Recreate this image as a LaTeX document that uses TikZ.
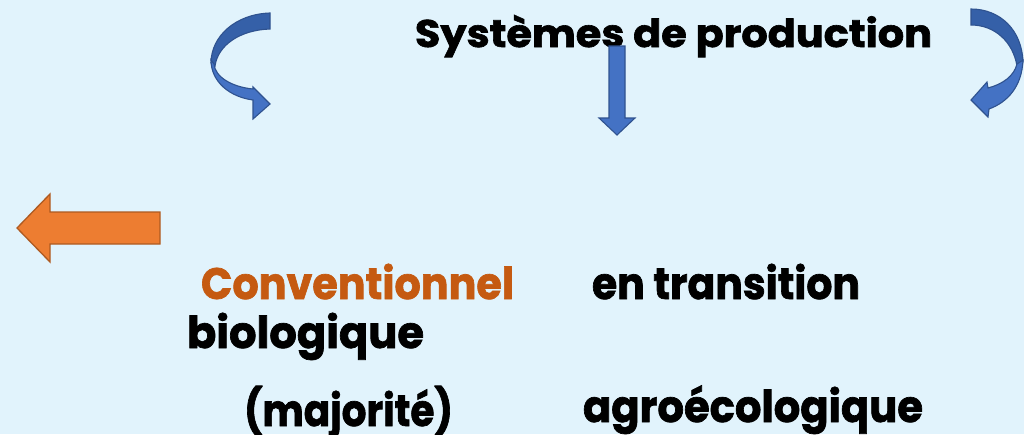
\documentclass[tikz,border=0pt]{standalone}
\usepackage{fontspec}
\setmainfont{Poppins}[BoldFeatures={FakeBold=1.6}]
\usepackage{graphicx}
\definecolor{bg}{HTML}{E1F3FC}
\definecolor{blueF}{HTML}{4472C4}
\definecolor{blueB}{HTML}{3560A8}
\definecolor{blueD}{HTML}{2F528F}
\definecolor{orF}{HTML}{ED7D31}
\definecolor{orD}{HTML}{AE5A21}
\definecolor{orT}{HTML}{C55A11}
\tikzset{
  txt/.style={inner sep=0pt, outer sep=0pt, anchor=base west, font=\bfseries\fontsize{44}{44}\selectfont},
  bluefront/.style={fill=blueF, draw=blueD, line width=1.1pt, line join=miter},
  blueback/.style={fill=blueB, draw=blueD, line width=1.1pt, line join=miter},
  orarrow/.style={fill=orF, draw=orD, line width=1.3pt, line join=miter}
}
\begin{document}
\begin{tikzpicture}[x=1pt,y=-1pt]
\fill[bg] (0,0) rectangle (1024,434);
\useasboundingbox (0,0) rectangle (1024,434);
% texts
\node[txt, font=\bfseries\fontsize{38.5}{38.5}\selectfont] (title) at (415,47) {\resizebox{517pt}{\height}{Systèmes de production}};
\node[txt, text=orT] (conv) at (201,299) {\resizebox{313pt}{\height}{Conventionnel}};
\node[txt] (trans) at (592,299) {\resizebox{268pt}{\height}{en transition}};
\node[txt] (bio) at (187,348) {\resizebox{237pt}{\height}{biologique}};
\node[txt] (maj) at (244,426) {\resizebox{209pt}{\height}{(majorité)}};
\node[txt] (agro) at (583,422) {\resizebox{340pt}{\height}{agroécologique}};
% left curved arrow
\path[blueback] (270,13) .. controls (236,14) and (211,36) .. (211,63) -- (215,66) .. controls (218,45) and (240,30) .. (270,29) -- cycle;
\path[bluefront] (211,60) .. controls (211,82) and (230,97) .. (253,100) -- (253,119) -- (270,104) -- (253,87) -- (253,89) .. controls (232,87) and (215,77) .. (214,64) -- cycle;
% right curved arrow
\path[blueback] (971,9) .. controls (1000,9) and (1022,30) .. (1023,62) -- (1017,66) .. controls (1013,42) and (995,25) .. (971,25) -- cycle;
\path[bluefront] (1023,60) .. controls (1022,86) and (1008,102) .. (989,109) -- (988,117) -- (971,100) -- (987,82) -- (988,88) .. controls (1003,84) and (1014,76) .. (1017,64) -- cycle;
% down arrow
\path[bluefront] (609,46) -- (625,46) -- (625,118) -- (635,118) -- (617,135) -- (599,118) -- (609,118) -- cycle;
% orange arrow
\path[orarrow] (160,212) -- (160,244) -- (50,244) -- (50,262) -- (17,228) -- (50,194) -- (50,212) -- cycle;
\end{tikzpicture}
\end{document}
